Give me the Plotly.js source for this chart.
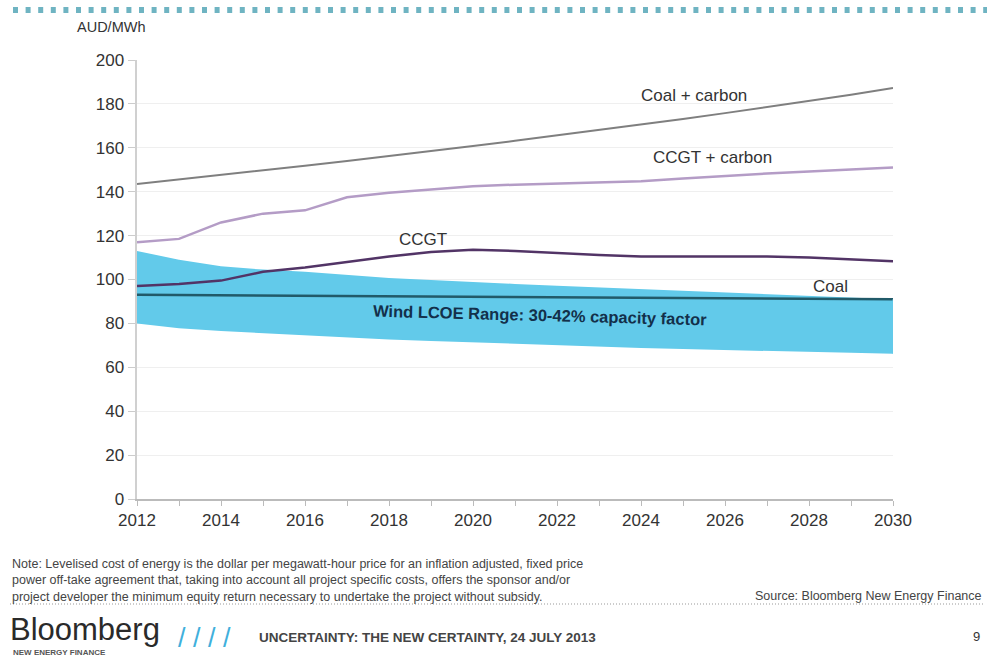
<!DOCTYPE html>
<html>
<head>
<meta charset="utf-8">
<script src="https://cdn.plot.ly/plotly-3.0.1.min.js"></script>
<style>html,body{margin:0;padding:0;background:#fff;}#chart{width:987px;height:659px;}</style>
</head>
<body>
<div id="chart"></div>
<script>
const years = [2012,2013,2014,2015,2016,2017,2018,2019,2020,2021,2022,2023,2024,2025,2026,2027,2028,2029,2030];
const coalCarbon = [143.5,145.5,147.5,149.7,151.8,154,156.2,158.5,160.8,163.2,165.6,168,170.5,173.1,175.8,178.5,181.3,184.2,187.2];
const ccgtCarbon = [117,118.5,126,130,131.5,137.5,139.5,141,142.5,143.2,143.8,144.3,144.8,146,147.2,148.3,149.2,150,151];
const ccgt = [97,98,99.5,103.5,105.5,108,110.5,112.5,113.5,113,112,111.2,110.5,110.5,110.8,110.5,110,109,108.3];
const coal = [93,92.9,92.8,92.7,92.6,92.5,92.4,92.3,92.2,92.1,92,91.9,91.8,91.7,91.6,91.5,91.4,91.2,91];
const windHigh = [113,109,106,104.5,103.5,102,100.7,99.8,98.8,98,97.2,96.4,95.5,94.8,94,93.2,92.5,91.8,91];
const windLow = [80,77.8,76.5,75.5,74.7,73.7,72.7,72,71.3,70.7,70.2,69.5,68.8,68.3,67.8,67.3,67,66.6,66.2];
const yTicks = [0,20,40,60,80,100,120,140,160,180,200];
const xTickLabels = ['2012','','2014','','2016','','2018','','2020','','2022','','2024','','2026','','2028','','2030'];

// plot area in pixels
const L = 137, R = 893, T = 60, B = 499;
const px = x => (x - L) / (R - L);
const py = y => (B - y) / (B - T);
const FF = 'Liberation Sans, Arial, sans-serif';

const traces = [
  {x: years, y: windLow, mode: 'lines', line: {width: 0, color: 'rgba(0,0,0,0)'}, hoverinfo: 'skip', showlegend: false},
  {x: years, y: windHigh, mode: 'lines', fill: 'tonexty', fillcolor: 'rgb(98,202,234)', line: {width: 0, color: 'rgba(0,0,0,0)'}, name: 'Wind LCOE', showlegend: false},
  {x: years, y: coal, mode: 'lines', line: {color: '#215a69', width: 2.5}, name: 'Coal', showlegend: false},
  {x: years, y: ccgt, mode: 'lines', line: {color: '#523466', width: 2.5}, name: 'CCGT', showlegend: false},
  {x: years, y: ccgtCarbon, mode: 'lines', line: {color: '#b49cc6', width: 2.5}, name: 'CCGT + carbon', showlegend: false},
  {x: years, y: coalCarbon, mode: 'lines', line: {color: '#7f7f7f', width: 2}, name: 'Coal + carbon', showlegend: false}
];

const lblFont = {family: FF, size: 17, color: '#333'};
const smallFont = {family: FF, size: 12.5, color: '#444'};
const annotations = [
  {x: 2025.25, y: 184, text: 'Coal + carbon', showarrow: false, font: lblFont},
  {x: 2025.7, y: 155.5, text: 'CCGT + carbon', showarrow: false, font: lblFont},
  {x: 2018.8, y: 118, text: 'CCGT', showarrow: false, font: lblFont},
  {x: 2028.5, y: 96.6, text: 'Coal', showarrow: false, font: lblFont},
  {x: 2021.6, y: 84, text: '<b>Wind LCOE Range: 30-42% capacity factor</b>', showarrow: false, textangle: 1.5,
   font: {family: FF, size: 16.5, color: '#13304a'}},
  {xref: 'paper', yref: 'paper', x: px(75), y: py(27), xanchor: 'left', yanchor: 'middle', text: 'AUD/MWh', showarrow: false,
   font: {family: FF, size: 14.5, color: '#333'}},
  {xref: 'paper', yref: 'paper', x: px(10), y: py(580), xanchor: 'left', yanchor: 'middle', align: 'left', showarrow: false,
   text: 'Note: Levelised cost of energy is the dollar per megawatt-hour price for an inflation adjusted, fixed price<br>power off-take agreement that, taking into account all project specific costs, offers the sponsor and/or<br>project developer the minimum equity return necessary to undertake the project without subsidy.',
   font: smallFont},
  {xref: 'paper', yref: 'paper', x: px(984), y: py(596), xanchor: 'right', yanchor: 'middle', showarrow: false,
   text: 'Source: Bloomberg New Energy Finance', font: smallFont},
  {xref: 'paper', yref: 'paper', x: px(9), y: py(648), xanchor: 'left', yanchor: 'bottom', showarrow: false, borderpad: 0,
   text: 'Bloomberg', font: {family: FF, size: 31, color: '#2a2a2a'}},
  {xref: 'paper', yref: 'paper', x: px(12), y: py(647), xanchor: 'left', yanchor: 'top', showarrow: false, borderpad: 0,
   text: '<b>NEW ENERGY FINANCE</b>', font: {family: FF, size: 8, color: '#555'}},
  {xref: 'paper', yref: 'paper', x: px(176), y: py(638), xanchor: 'left', yanchor: 'middle', showarrow: false,
   text: '/ / / /', font: {family: FF, size: 27, color: '#3fb0dc'}},
  {xref: 'paper', yref: 'paper', x: px(257), y: py(637), xanchor: 'left', yanchor: 'middle', showarrow: false,
   text: '<b>UNCERTAINTY: THE NEW CERTAINTY, 24 JULY 2013</b>', font: {family: FF, size: 13.5, color: '#444'}},
  {xref: 'paper', yref: 'paper', x: px(982), y: py(636), xanchor: 'right', yanchor: 'middle', showarrow: false,
   text: '9', font: {family: FF, size: 13, color: '#333'}}
];

const shapes = [
  {type: 'line', xref: 'paper', yref: 'paper', x0: px(13), x1: px(987), y0: py(10), y1: py(10),
   line: {color: '#6fb4c2', width: 6, dash: '5px,7.6px'}},
  {type: 'line', xref: 'paper', yref: 'paper', x0: px(10), x1: px(985), y0: py(604), y1: py(604),
   line: {color: '#999', width: 1, dash: '1px,2px'}},
  {type: 'line', xref: 'x', yref: 'y', x0: 2030, x1: 2030, y0: windLow[windLow.length-1], y1: windHigh[windHigh.length-1],
   line: {color: 'rgb(98,202,234)', width: 1}}
];

const layout = {
  width: 987, height: 659,
  margin: {l: L, r: 987 - R, t: T, b: 659 - B},
  paper_bgcolor: '#fff', plot_bgcolor: '#fff',
  showlegend: false,
  font: {family: FF, color: '#333'},
  xaxis: {
    range: [2012, 2030], tickmode: 'array', tickvals: years, ticktext: xTickLabels,
    showgrid: false, zeroline: false, showline: true, linecolor: '#bbb', linewidth: 1.5,
    ticks: 'outside', ticklen: 5, tickcolor: '#bbb',
    tickfont: {size: 17, color: '#333'}
  },
  yaxis: {
    range: [0, 200], tickvals: yTicks, ticktext: yTicks.map(String),
    showgrid: true, gridcolor: '#efefef', gridwidth: 1, zeroline: false,
    showline: true, linecolor: '#d0d0d0', linewidth: 2.5,
    ticks: 'outside', ticklen: 7, tickcolor: '#ccc',
    tickfont: {size: 17, color: '#333'}
  },
  annotations: annotations,
  shapes: shapes
};

Plotly.newPlot('chart', traces, layout, {displayModeBar: false, staticPlot: true});
</script>
</body>
</html>
